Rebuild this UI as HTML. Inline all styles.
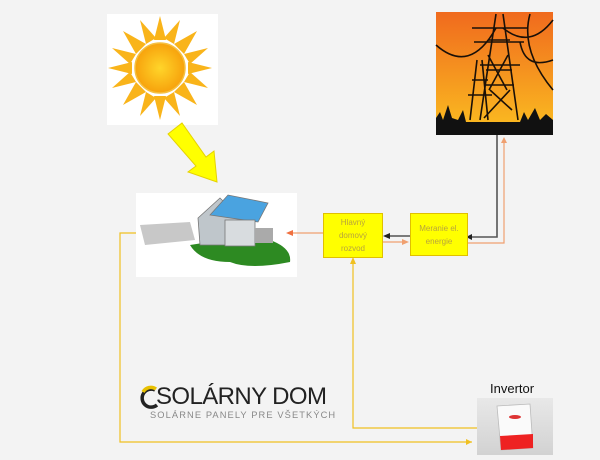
<!DOCTYPE html>
<html><head><meta charset="utf-8"><style>
body{margin:0;width:600px;height:460px;background:#f3f3f3;overflow:hidden;position:relative;font-family:"Liberation Sans",sans-serif}
.box{position:absolute;background:#ffff00;border:1px solid #e0c000;color:#b8a43c;font-size:8px;text-align:center;display:flex;align-items:center;justify-content:center;line-height:13px}
</style></head><body>
<svg width="600" height="460" style="position:absolute;left:0;top:0">
<defs>
<linearGradient id="sky" x1="0" y1="0" x2="0" y2="1"><stop offset="0" stop-color="#f06a1e"/><stop offset="1" stop-color="#fbbf20"/></linearGradient>
<radialGradient id="sun"><stop offset="0" stop-color="#ffd52a"/><stop offset="1" stop-color="#f7a20c"/></radialGradient>
<linearGradient id="inv" x1="0" y1="0" x2="0" y2="1"><stop offset="0" stop-color="#e8e8e8"/><stop offset="1" stop-color="#d2d2d2"/></linearGradient>
</defs>
<rect x="107" y="14" width="111" height="111" fill="#fff"/>
<g transform="translate(160,68)">
<g fill="#f9b41a">
<polygon points="0,-52 6,-28 -6,-28"/><polygon points="0,52 6,28 -6,28"/><polygon points="-52,0 -28,6 -28,-6"/><polygon points="52,0 28,6 28,-6"/>
<polygon points="37,-37 24,-14 14,-24"/><polygon points="-37,37 -24,14 -14,24"/><polygon points="-37,-37 -24,-14 -14,-24"/><polygon points="37,37 24,14 14,24"/>
<polygon points="20,-48 14,-24 4,-30"/><polygon points="-20,48 -14,24 -4,30"/><polygon points="48,20 24,14 30,4"/><polygon points="-48,-20 -24,-14 -30,-4"/>
<polygon points="-20,-48 -14,-24 -4,-30"/><polygon points="20,48 14,24 4,30"/><polygon points="48,-20 24,-14 30,-4"/><polygon points="-48,20 -24,14 -30,4"/>
</g>
<circle r="25" fill="url(#sun)" stroke="#f5c040" stroke-width="1.5"/>
</g>
<polygon points="168,134 182,123 206,157 214,151 217,182 188,172 196,166" fill="#ffff00" stroke="#e6d200" stroke-width="1"/>
<rect x="436" y="12" width="117" height="123" fill="url(#sky)"/>
<g stroke="#1a1008" stroke-width="1.6" fill="none">
<path d="M496,14 L480,120 M503,14 L518,120 M486,70 L512,70 M484,85 L514,85 M488,40 L510,40 M472,28 L528,28 M474,42 L524,42 M480,65 L520,65 M488,55 L507,90 M508,55 L489,90 M490,90 L512,110 M510,90 L484,118"/>
<path d="M477,60 L470,120 M482,60 L488,120 M472,80 L488,80 M468,95 L492,95"/>
<path d="M436,45 Q470,75 496,28 M553,20 Q530,50 503,28 M553,60 Q525,70 520,42 M530,14 Q520,50 553,90"/>
</g>
<path d="M436,135 L436,118 L440,112 L443,120 L448,105 L452,118 L458,120 L463,110 L466,122 L520,122 L524,112 L528,120 L535,108 L540,120 L546,114 L553,120 L553,135 Z" fill="#111"/>
<rect x="136" y="193" width="161" height="84" fill="#fff"/>
<path d="M190,245 Q230,238 270,240 Q292,248 290,262 Q250,270 230,262 Q200,262 190,245Z" fill="#2d8a22"/>
<path d="M140,225 L190,222 L195,240 L145,245Z" fill="#c8c8c8"/>
<path d="M198,218 L220,198 L240,218 L240,245 L200,245Z" fill="#bfc6cb" stroke="#777" stroke-width="0.8"/>
<path d="M210,215 L228,195 L268,203 L258,222Z" fill="#4aa3e0" stroke="#777" stroke-width="0.8"/>
<rect x="225" y="220" width="30" height="26" fill="#d8dcdf" stroke="#777" stroke-width="0.8"/>
<rect x="255" y="228" width="18" height="15" fill="#aaa"/>
<g fill="none" stroke-width="1.2">
<path d="M136,233 L120,233 L120,442 L472,442" stroke="#f0c020"/>
<path d="M477,428 L353,428 L353,263" stroke="#f0c020"/>
<path d="M497,135 L497,237 L472,237" stroke="#555" stroke-width="1.6"/>
<path d="M466,243 L504,243 L504,142" stroke="#f0a070"/>
<path d="M410,236 L390,236" stroke="#333"/>
<path d="M382,242 L402,242" stroke="#f0a070"/>
<path d="M324,233 L292,233" stroke="#f0a070"/>
</g>
<polygon points="472,442 466,439 466,445" fill="#f0c020"/>
<polygon points="353,257 350,264 356,264" fill="#f0c020"/>
<polygon points="466,237 472,234 472,240" fill="#222"/>
<polygon points="504,137 501,143 507,143" fill="#f0a070"/>
<polygon points="383,236 390,233 390,239" fill="#222"/>
<polygon points="409,242 402,239 402,245" fill="#f0a070"/>
<polygon points="286,233 293,230 293,236" fill="#f07040"/>
<rect x="477" y="398" width="76" height="57" fill="url(#inv)"/>
<path d="M497,406 L530,404 L533,448 L501,450Z" fill="#fafafa" stroke="#bbb" stroke-width="0.8"/>
<path d="M500,436 L533,434 L533,448 L501,450Z" fill="#e22"/>
<ellipse cx="515" cy="417" rx="6" ry="2" fill="#d33"/>
<path d="M155,390 A9,9 0 1 0 157,405" fill="none" stroke="#222" stroke-width="3.5"/>
<path d="M143,392 A9,9 0 0 1 156,389" fill="none" stroke="#e8c000" stroke-width="3.5"/>
</svg>
<div style="position:absolute;left:156px;top:384px;font-size:24px;color:#222;letter-spacing:-0.6px;line-height:25px">SOLÁRNY DOM</div>
<div style="position:absolute;left:150px;top:410px;font-size:9.3px;color:#888;letter-spacing:1.1px;line-height:10px">SOLÁRNE PANELY PRE VŠETKÝCH</div>
<div style="position:absolute;left:490px;top:381px;font-size:13px;color:#111">Invertor</div>
<div class="box" style="left:323px;top:213px;width:58px;height:43px">Hlavný<br>domový<br>rozvod</div>
<div class="box" style="left:410px;top:213px;width:56px;height:41px">Meranie el.<br>energie</div>
</body></html>
